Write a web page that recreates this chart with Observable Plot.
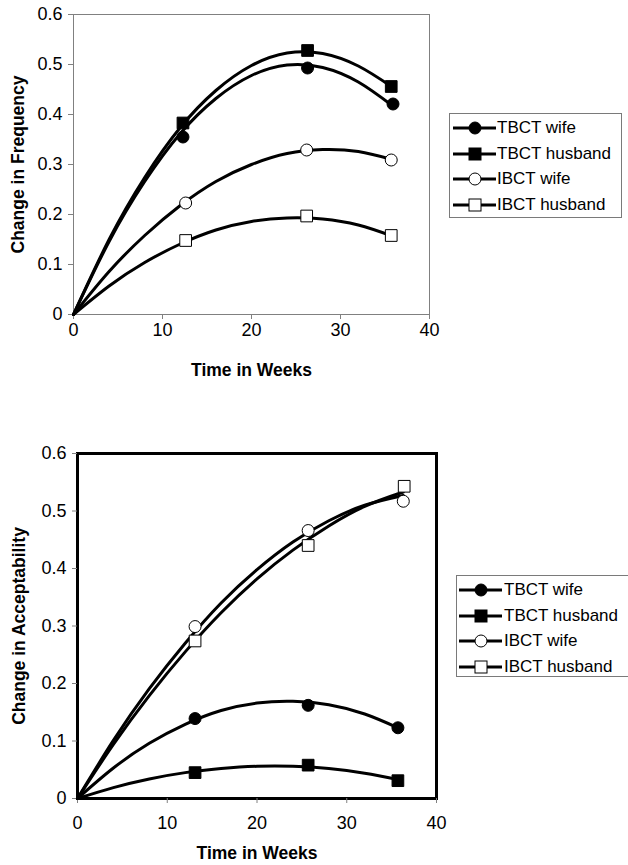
<!DOCTYPE html>
<html><head><meta charset="utf-8">
<script src="https://cdn.jsdelivr.net/npm/d3@7"></script>
<script src="https://cdn.jsdelivr.net/npm/@observablehq/plot@0.6"></script>
<style>
html,body{margin:0;padding:0;background:#fff;}
body{width:628px;height:865px;position:relative;overflow:hidden;font-family:"Liberation Sans",Arial,sans-serif;}
#top{position:absolute;left:0;top:0;}
#bottom{position:absolute;left:0;top:440px;}
.legend{position:absolute;border:1px solid #7a7a7a;background:#fff;box-sizing:border-box;}
.legend .row{position:absolute;left:0;height:24px;display:flex;align-items:center;font-size:17px;color:#000;white-space:nowrap;}
.legend svg{display:block;}
</style></head><body>
<div id="top"></div>
<div id="bottom"></div>
<div id="legTop" class="legend" style="left:449px;top:113px;width:173px;height:105px;"></div>
<div id="legBottom" class="legend" style="left:456px;top:575px;width:175px;height:102px;"></div>
<script>
// ---- Series definitions ----
const seriesNames = ["TBCT wife", "TBCT husband", "IBCT wife", "IBCT husband"];
const seriesSymbols = ["circle", "square", "circle", "square"];
const seriesFills = ["black", "black", "white", "white"];

// ---- Axes ----
const xTicks = [0, 10, 20, 30, 40];
const yTicks = [0, 0.1, 0.2, 0.3, 0.4, 0.5, 0.6];
const yTickLabels = ["0", "0.1", "0.2", "0.3", "0.4", "0.5", "0.6"];
const xLabel = "Time in Weeks";
const freqLabel = "Change in Frequency";
const accLabel = "Change in Acceptability";

// ---- Panel 1: Change in Frequency (observed points) ----
const freqTbctWifeWeeks = [12.3, 26.3, 35.9];
const freqTbctWifeValues = [0.355, 0.493, 0.421];
const freqTbctHusbandWeeks = [12.3, 26.3, 35.7];
const freqTbctHusbandValues = [0.383, 0.528, 0.456];
const freqIbctWifeWeeks = [12.6, 26.2, 35.7];
const freqIbctWifeValues = [0.223, 0.329, 0.309];
const freqIbctHusbandWeeks = [12.6, 26.2, 35.7];
const freqIbctHusbandValues = [0.148, 0.197, 0.158];

// ---- Panel 1: fitted curves ----
const freqFitWeeks = [0, 4, 8, 12, 16, 20, 24, 28, 32, 35.8];
const freqFitTbctWife = [0, 0.146, 0.266, 0.362, 0.432, 0.478, 0.499, 0.494, 0.465, 0.418];
const freqFitTbctHusband = [0, 0.150, 0.274, 0.374, 0.448, 0.498, 0.523, 0.522, 0.497, 0.455];
const freqFitIbctWife = [0, 0.086, 0.158, 0.218, 0.266, 0.300, 0.322, 0.330, 0.326, 0.310];
const freqFitIbctHusband = [0, 0.057, 0.104, 0.141, 0.169, 0.186, 0.193, 0.191, 0.179, 0.157];

// ---- Panel 2: Change in Acceptability (observed points) ----
const accTbctWifeWeeks = [13.1, 25.7, 35.7];
const accTbctWifeValues = [0.139, 0.162, 0.123];
const accTbctHusbandWeeks = [13.1, 25.7, 35.7];
const accTbctHusbandValues = [0.045, 0.058, 0.031];
const accIbctWifeWeeks = [13.1, 25.7, 36.3];
const accIbctWifeValues = [0.299, 0.466, 0.517];
const accIbctHusbandWeeks = [13.1, 25.7, 36.4];
const accIbctHusbandValues = [0.274, 0.440, 0.543];

// ---- Panel 2: fitted curves ----
const accFitWeeksTbct = [0, 4, 8, 12, 16, 20, 24, 28, 32, 35.7];
const accFitTbctWife = [0, 0.053, 0.096, 0.129, 0.153, 0.166, 0.169, 0.163, 0.147, 0.123];
const accFitTbctHusband = [0, 0.019, 0.034, 0.045, 0.052, 0.056, 0.056, 0.052, 0.044, 0.033];
const accFitWeeksIbct = [0, 4, 8, 12, 16, 20, 24, 28, 32, 36.3];
const accFitIbctWife = [0, 0.101, 0.191, 0.270, 0.340, 0.398, 0.446, 0.483, 0.510, 0.527];
const accFitIbctHusband = [0, 0.094, 0.179, 0.255, 0.323, 0.382, 0.432, 0.474, 0.508, 0.533];

// ---- helpers ----
const rows = (xs, ys, s) => xs.map((x, i) => ({week: x, value: ys[i], series: s}));

function panel({points, fits, ylabel, frameStroke, frameWidth, tickPadX, labelDy, width, height, mL, mR, mT, mB, ylabelX}) {
  const marks = [
    Plot.frame({stroke: frameStroke, strokeWidth: frameWidth}),
    Plot.axisX({ticks: xTicks, tickSize: 5, tickPadding: tickPadX, stroke: "#808080", label: null, tickFormat: d => String(d)}),
    Plot.axisY({ticks: yTicks, tickSize: 5, tickPadding: 6, stroke: "#808080", label: null,
      tickFormat: d => yTickLabels[yTicks.indexOf(d)] ?? String(d)})
  ];
  fits.forEach(f => marks.push(Plot.line(f, {x: "week", y: "value", curve: "natural", stroke: "black", strokeWidth: 3})));
  points.forEach((p, i) => marks.push(Plot.dot(p, {x: "week", y: "value", symbol: seriesSymbols[i],
    r: seriesSymbols[i] === "square" ? 6.6 : 6, fill: seriesFills[i], stroke: "black", strokeWidth: 1})));
  marks.push(Plot.text([xLabel], {frameAnchor: "bottom", textAnchor: "middle", dy: labelDy, fontWeight: "bold", fontSize: 17.5}));
  marks.push(Plot.text([ylabel], {frameAnchor: "left", textAnchor: "middle", rotate: -90, dx: ylabelX - mL, fontWeight: "bold", fontSize: 17.5}));
  return Plot.plot({
    width, height, marginLeft: mL, marginRight: mR, marginTop: mT, marginBottom: mB,
    style: {fontFamily: "'Liberation Sans', Arial, sans-serif", fontSize: "18px", color: "black", background: "white", overflow: "visible"},
    x: {domain: [0, 40]},
    y: {domain: [0, 0.6]},
    marks
  });
}

const freqPoints = [
  rows(freqTbctWifeWeeks, freqTbctWifeValues, seriesNames[0]),
  rows(freqTbctHusbandWeeks, freqTbctHusbandValues, seriesNames[1]),
  rows(freqIbctWifeWeeks, freqIbctWifeValues, seriesNames[2]),
  rows(freqIbctHusbandWeeks, freqIbctHusbandValues, seriesNames[3])
];
const freqFits = [
  rows(freqFitWeeks, freqFitTbctWife, seriesNames[0]),
  rows(freqFitWeeks, freqFitTbctHusband, seriesNames[1]),
  rows(freqFitWeeks, freqFitIbctWife, seriesNames[2]),
  rows(freqFitWeeks, freqFitIbctHusband, seriesNames[3])
];
const accPoints = [
  rows(accTbctWifeWeeks, accTbctWifeValues, seriesNames[0]),
  rows(accTbctHusbandWeeks, accTbctHusbandValues, seriesNames[1]),
  rows(accIbctWifeWeeks, accIbctWifeValues, seriesNames[2]),
  rows(accIbctHusbandWeeks, accIbctHusbandValues, seriesNames[3])
];
const accFits = [
  rows(accFitWeeksTbct, accFitTbctWife, seriesNames[0]),
  rows(accFitWeeksTbct, accFitTbctHusband, seriesNames[1]),
  rows(accFitWeeksIbct, accFitIbctWife, seriesNames[2]),
  rows(accFitWeeksIbct, accFitIbctHusband, seriesNames[3])
];

document.getElementById("top").append(panel({
  points: freqPoints, fits: freqFits, ylabel: freqLabel, frameStroke: "#808080", frameWidth: 1,
  tickPadX: 4, labelDy: 61, width: 440, height: 390, mL: 73, mR: 11, mT: 14, mB: 76, ylabelX: 18
}));
document.getElementById("bottom").append(panel({
  points: accPoints, fits: accFits, ylabel: accLabel, frameStroke: "black", frameWidth: 3,
  tickPadX: 13, labelDy: 60, width: 450, height: 425, mL: 77, mR: 14, mT: 13, mB: 67, ylabelX: 19
}));

// ---- legends ----
function legend(id, symX) {
  const el = document.getElementById(id);
  seriesNames.forEach((name, i) => {
    const row = document.createElement("div");
    row.className = "row";
    row.style.top = (2 + i * 25.5) + "px";
    const ns = "http://www.w3.org/2000/svg";
    const svg = document.createElementNS(ns, "svg");
    svg.setAttribute("width", 47); svg.setAttribute("height", 24);
    const line = document.createElementNS(ns, "line");
    line.setAttribute("x1", symX - 22); line.setAttribute("x2", symX + 21);
    line.setAttribute("y1", 12); line.setAttribute("y2", 12);
    line.setAttribute("stroke", "black"); line.setAttribute("stroke-width", 3);
    svg.append(line);
    let m;
    if (seriesSymbols[i] === "circle") {
      m = document.createElementNS(ns, "circle");
      m.setAttribute("cx", symX); m.setAttribute("cy", 12); m.setAttribute("r", 6);
    } else {
      m = document.createElementNS(ns, "rect");
      m.setAttribute("x", symX - 6); m.setAttribute("y", 6); m.setAttribute("width", 12); m.setAttribute("height", 12);
    }
    m.setAttribute("fill", seriesFills[i]); m.setAttribute("stroke", "black"); m.setAttribute("stroke-width", 1);
    svg.append(m);
    row.append(svg);
    const t = document.createElement("span");
    t.textContent = name;
    row.append(t);
    el.append(row);
  });
}
legend("legTop", 25);
legend("legBottom", 24);
</script>
</body></html>
